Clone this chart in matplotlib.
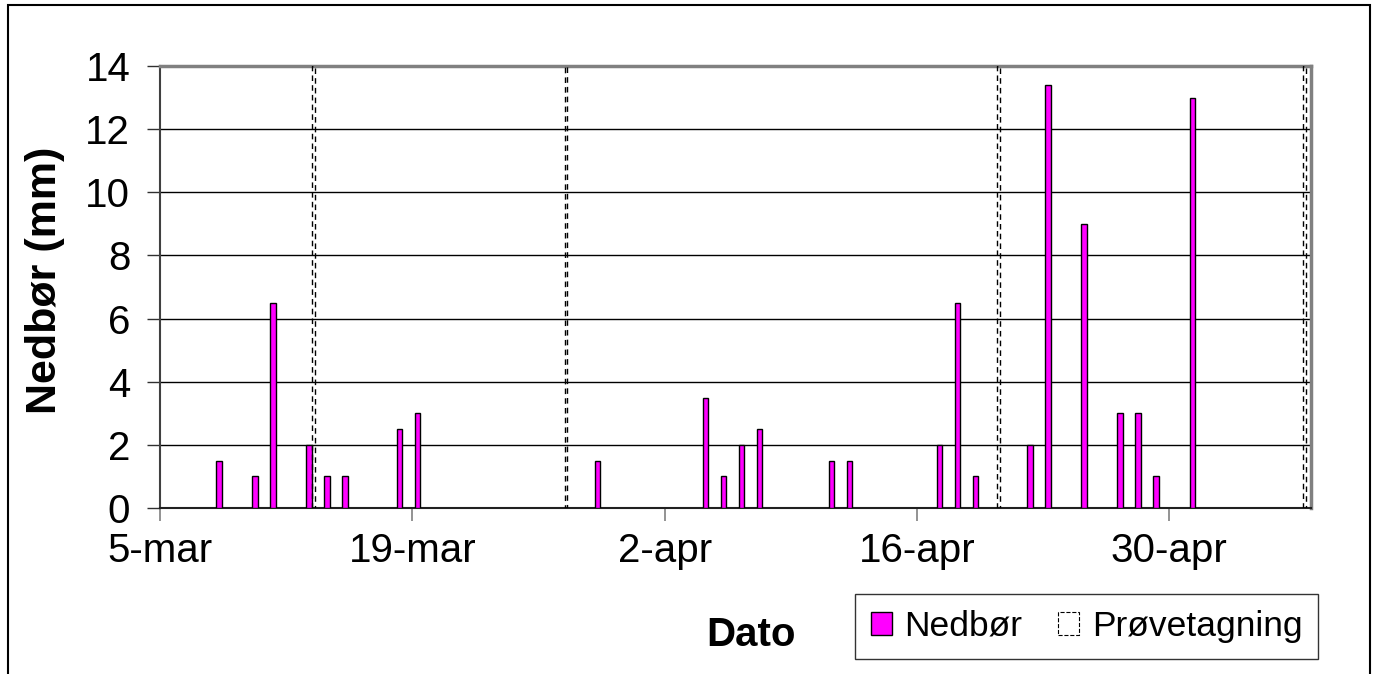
import matplotlib.pyplot as plt
import matplotlib.dates as mdates
import matplotlib.patches as mpatches
import datetime as dt

plt.rcParams['font.family'] = ['Liberation Sans', 'DejaVu Sans']

# data (year is arbitrary)
nedbor_dates = ['2003-03-08', '2003-03-10', '2003-03-11', '2003-03-13', '2003-03-14',
                '2003-03-15', '2003-03-18', '2003-03-19', '2003-03-29', '2003-04-04',
                '2003-04-05', '2003-04-06', '2003-04-07', '2003-04-11', '2003-04-12',
                '2003-04-17', '2003-04-18', '2003-04-19', '2003-04-22', '2003-04-23',
                '2003-04-25', '2003-04-27', '2003-04-28', '2003-04-29', '2003-05-01']
nedbor_mm = [1.5, 1, 6.5, 2, 1,
             1, 2.5, 3, 1.5, 3.5,
             1, 2, 2.5, 1.5, 1.5,
             2, 6.5, 1, 2, 13.4,
             9, 3, 3, 1, 13]
prove_dates = ['2003-03-13', '2003-03-27', '2003-04-20', '2003-05-07']
prove_height = [14, 14, 14, 14]

tick_dates = ['2003-03-05', '2003-03-19', '2003-04-02', '2003-04-16', '2003-04-30']
tick_labels = ['5-mar', '19-mar', '2-apr', '16-apr', '30-apr']


def to_num(dates):
    return [mdates.date2num(dt.datetime.strptime(d, '%Y-%m-%d')) for d in dates]


W, H = 1376, 674
fig = plt.figure(figsize=(W / 100, H / 100), dpi=100)
ax = fig.add_axes([160 / W, 1 - 508 / H, (1310.7 - 160) / W, (508 - 66) / H])

xn = to_num(nedbor_dates)
xp = to_num(prove_dates)
ax.bar([x + 0.27 for x in xn], nedbor_mm, width=0.29, color='#FF00FF',
       edgecolor='black', linewidth=1, zorder=3, label='Nedbør')
ax.bar([x + 0.52 for x in xp], prove_height, width=0.15, fill=False,
       edgecolor='black', linewidth=1, linestyle=(0, (4, 3)), zorder=3,
       label='Prøvetagning')

start = to_num(tick_dates)[0]
ax.set_xlim(start, start + 63.85)
ax.set_ylim(0, 14)
ax.set_yticks(range(0, 15, 2))
ax.set_xticks(to_num(tick_dates))
ax.set_xticklabels(tick_labels)

ax.yaxis.grid(True, color='black', linewidth=1)
ax.set_axisbelow(True)

ax.spines['left'].set_color('#404040')
ax.spines['left'].set_linewidth(1.5)
ax.spines['bottom'].set_color('#202020')
ax.spines['bottom'].set_linewidth(1.5)
ax.spines['top'].set_color('#808080')
ax.spines['top'].set_linewidth(2.5)
ax.spines['right'].set_color('#808080')
ax.spines['right'].set_linewidth(2.5)

ax.tick_params(axis='x', direction='out', length=9.5, width=1.2, color='#808080',
               labelsize=29, pad=8)
ax.tick_params(axis='y', direction='out', length=9.5, width=1, color='#303030',
               labelsize=29, pad=12)

fig.text(45 / W, 1 - 280 / H, 'Nedbør (mm)', rotation=90, ha='center', va='center',
         fontsize=31, fontweight='bold')
fig.text(751 / W, 1 - 635 / H, 'Dato', ha='center', va='center',
         fontsize=29, fontweight='bold')

handles = [mpatches.Patch(facecolor='#FF00FF', edgecolor='black', linewidth=1),
           mpatches.Patch(facecolor='none', edgecolor='black', linewidth=0.8,
                          linestyle='--')]
leg = fig.legend(handles, ['Nedbør', 'Prøvetagning'], ncol=2,
                 loc='upper left', bbox_to_anchor=(855 / W, 1 - 594 / H),
                 fontsize=25.5, frameon=True, fancybox=False, edgecolor='black',
                 handlelength=0.6, handleheight=0.6, handletextpad=0.35,
                 columnspacing=1.0, borderpad=0.45, borderaxespad=0)
leg.get_frame().set_linewidth(1)

fig.patches.append(mpatches.Rectangle((8 / W, -0.01), (1370 - 8) / W, 1 - 5 / H + 0.01,
                                      transform=fig.transFigure, fill=False,
                                      edgecolor='black', linewidth=1.5))

fig.savefig('out.png', dpi=100)
